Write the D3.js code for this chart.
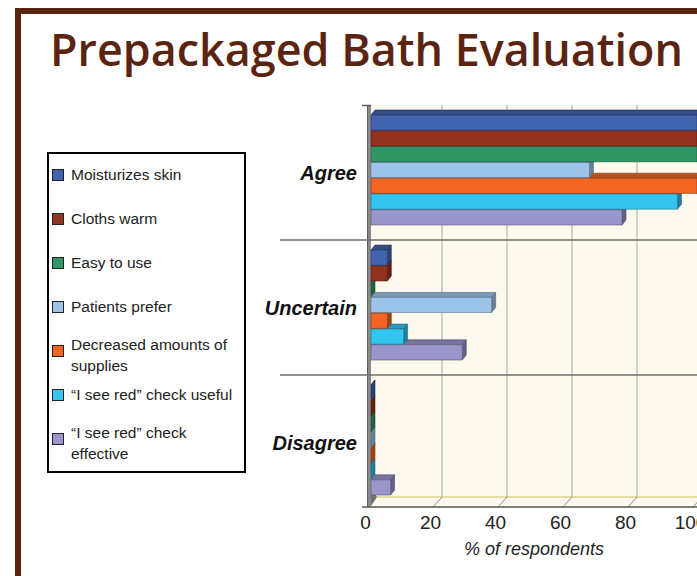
<!DOCTYPE html>
<html>
<head>
<meta charset="utf-8">
<script src="https://cdn.jsdelivr.net/npm/d3@7"></script>
<style>
  html, body { margin: 0; padding: 0; background: #fff; }
  svg { display: block; }
</style>
</head>
<body>
<svg id="chart" width="697" height="576"></svg>
<script>
const categories = ['Agree', 'Uncertain', 'Disagree']
const series = [
  'Moisturizes skin',
  'Cloths warm',
  'Easy to use',
  'Patients prefer',
  'Decreased amounts of supplies',
  '“I see red” check useful',
  '“I see red” check effective'
]
const agreeValues = [100, 100, 100, 67, 100, 94, 77]
const uncertainValues = [5, 5, 0, 37, 5, 10, 28]
const disagreeValues = [0, 0, 0, 0, 0, 0, 6]
const xTicks = [0, 20, 40, 60, 80, 100]
const colors = ['#4263b0', '#92331f', '#2f9565', '#9cc3e8', '#f26522', '#33c5f0', '#9a95cb']

const valuesByCategory = { Agree: agreeValues, Uncertain: uncertainValues, Disagree: disagreeValues }

const svg = d3.select('#chart')
const brown = '#5b2411'

// frame
svg.append('path')
  .attr('d', 'M18,576 L18,11 L697,11')
  .attr('fill', 'none')
  .attr('stroke', brown)
  .attr('stroke-width', 6)

svg.append('text')
  .text('Prepackaged Bath Evaluation')
  .attr('x', 50)
  .attr('y', 66)
  .attr('textLength', 633)
  .attr('lengthAdjust', 'spacingAndGlyphs')
  .attr('fill', brown)
  .style('font-family', '"Open Sans", sans-serif')
  .style('font-weight', 600)
  .style('font-size', '45px')

// scales
const xBar = d3.scaleLinear().domain([0, 100]).range([371, 697])
const xFront = d3.scaleLinear().domain([0, 100]).range([368, 693])
const xBack = d3.scaleLinear().domain([0, 100]).range([377, 702])
const yCat = d3.scaleBand().domain(categories).range([105, 510])
const ySeries = d3.scaleBand().domain(series).range([10, 120.6])

const floorY = 497
const axisY = 507
const dx = 4, dy = 5

// plot background + floor
svg.append('rect')
  .attr('x', 371).attr('y', 105)
  .attr('width', 697 - 371).attr('height', floorY - 105)
  .attr('fill', '#fdf9ef')
svg.append('path')
  .attr('d', `M${xFront(0)},${axisY} L${xBack(0)},${floorY} L697,${floorY} L697,${axisY} Z`)
  .attr('fill', '#fdf9ef')
svg.append('line')
  .attr('x1', xBack(0)).attr('x2', 697)
  .attr('y1', floorY).attr('y2', floorY)
  .attr('stroke', '#e3dea2').attr('stroke-width', 2)

// gridlines on back wall and floor diagonals
const grid = svg.append('g')
grid.selectAll('line.v')
  .data(xTicks.slice(1))
  .join('line')
  .attr('class', 'v')
  .attr('x1', d => xBack(d)).attr('x2', d => xBack(d))
  .attr('y1', 105).attr('y2', floorY)
  .attr('stroke', '#a9a6a0').attr('stroke-width', 1)
grid.selectAll('line.d')
  .data(xTicks.slice(1))
  .join('line')
  .attr('class', 'd')
  .attr('x1', d => xBack(d)).attr('x2', d => xFront(d))
  .attr('y1', floorY).attr('y2', axisY)
  .attr('stroke', '#8f8c86').attr('stroke-width', 1)

// side wall
svg.append('rect')
  .attr('x', 367).attr('y', 105)
  .attr('width', 4).attr('height', axisY - 105)
  .attr('fill', '#8a8a8a')
svg.append('line')
  .attr('x1', 367.5).attr('x2', 367.5).attr('y1', 105).attr('y2', axisY)
  .attr('stroke', '#5e5e5e')
svg.append('path')
  .attr('d', `M371,486 L${xBack(0)},${floorY} L371,${axisY - 1} Z`)
  .attr('fill', '#707070')
svg.append('line')
  .attr('x1', 362).attr('x2', 371).attr('y1', 105.5).attr('y2', 105.5)
  .attr('stroke', '#5e5e5e').attr('stroke-width', 1.5)

// category separators
svg.selectAll('line.sep')
  .data(categories.slice(1))
  .join('line')
  .attr('class', 'sep')
  .attr('x1', 280).attr('x2', 697)
  .attr('y1', d => yCat(d)).attr('y2', d => yCat(d))
  .attr('stroke', '#6e6e6e').attr('stroke-width', 1.5)

// bars (drawn bottom series first so upper fronts cover lower tops)
const bars = []
categories.forEach(cat => {
  series.forEach((s, i) => {
    bars.push({ cat, s, i, value: valuesByCategory[cat][i], color: colors[i] })
  })
})
bars.sort((a, b) => b.i - a.i)

const barG = svg.append('g')
  .selectAll('g')
  .data(bars)
  .join('g')
  .attr('stroke-width', 0.6)
  .attr('stroke-linejoin', 'round')

barG.each(function (d) {
  const g = d3.select(this)
  const c = d3.color(d.color)
  const x0 = xBar(0)
  const x1 = xBar(d.value)
  const y = yCat(d.cat) + ySeries(d.s)
  const h = ySeries.bandwidth() - 0.6
  g.append('path')
    .attr('d', `M${x1},${y} L${x1 + dx},${y - dy} L${x1 + dx},${y + h - dy} L${x1},${y + h} Z`)
    .attr('fill', c.darker(1.2))
    .attr('stroke', c.darker(1.8))
  g.append('path')
    .attr('d', `M${x0},${y} L${x0 + dx},${y - dy} L${x1 + dx},${y - dy} L${x1},${y} Z`)
    .attr('fill', c.darker(0.7))
    .attr('stroke', c.darker(1.8))
  g.append('rect')
    .attr('x', x0).attr('y', y)
    .attr('width', x1 - x0).attr('height', h)
    .attr('fill', d.color)
    .attr('stroke', c.darker(1.5))
})

// category labels
svg.selectAll('text.cat')
  .data(categories)
  .join('text')
  .attr('class', 'cat')
  .text(d => d)
  .attr('x', 357)
  .attr('y', d => yCat(d) + yCat.bandwidth() / 2 + 7)
  .attr('text-anchor', 'end')
  .attr('fill', '#111')
  .style('font-family', '"Liberation Sans", Arial, sans-serif')
  .style('font-weight', 'bold')
  .style('font-style', 'italic')
  .style('font-size', '20px')

// bottom axis
svg.append('line')
  .attr('x1', 362).attr('x2', 697)
  .attr('y1', axisY).attr('y2', axisY)
  .attr('stroke', '#555').attr('stroke-width', 1.5)

const xAxis = svg.append('g')
  .attr('transform', `translate(-3, ${axisY})`)
  .call(d3.axisBottom(xFront).tickValues(xTicks).tickSize(0).tickPadding(9))
xAxis.select('.domain').remove()
xAxis.selectAll('text')
  .attr('fill', '#222')
  .style('font-family', '"Liberation Sans", Arial, sans-serif')
  .style('font-size', '19px')

svg.append('text')
  .text('% of respondents')
  .attr('x', 534)
  .attr('y', 555)
  .attr('text-anchor', 'middle')
  .attr('fill', '#222')
  .style('font-family', '"Liberation Sans", Arial, sans-serif')
  .style('font-style', 'italic')
  .style('font-size', '18px')

// legend
const legend = svg.append('g')
legend.append('rect')
  .attr('x', 48).attr('y', 153)
  .attr('width', 197).attr('height', 319)
  .attr('fill', '#fff')
  .attr('stroke', '#000').attr('stroke-width', 2)

const legendY = d3.scaleLinear().domain([0, series.length - 1]).range([175, 439])

const items = legend.selectAll('g.item')
  .data(series)
  .join('g')
  .attr('class', 'item')
  .attr('transform', (d, i) => `translate(0, ${legendY(i)})`)

items.append('rect')
  .attr('x', 52.5).attr('y', -5.5)
  .attr('width', 11).attr('height', 11)
  .attr('fill', (d, i) => colors[i])
  .attr('stroke', '#222').attr('stroke-width', 1)

items.each(function (d) {
  const g = d3.select(this)
  const words = d.split(' ')
  const lines = []
  let line = []
  const probe = g.append('text')
    .style('font-family', '"Liberation Sans", Arial, sans-serif')
    .style('font-size', '15.5px')
  words.forEach(w => {
    const test = line.concat(w).join(' ')
    probe.text(test)
    if (line.length && probe.node().getComputedTextLength() > 166) {
      lines.push(line.join(' '))
      line = [w]
    } else {
      line.push(w)
    }
  })
  lines.push(line.join(' '))
  probe.remove()
  const t = g.append('text')
    .attr('x', 71)
    .attr('fill', '#222')
    .style('font-family', '"Liberation Sans", Arial, sans-serif')
    .style('font-size', '15.5px')
  lines.forEach((l, k) => {
    t.append('tspan')
      .attr('x', 71)
      .attr('y', lines.length > 1 ? -6 + k * 21 + 5 : 5)
      .text(l)
  })
})
</script>
</body>
</html>
